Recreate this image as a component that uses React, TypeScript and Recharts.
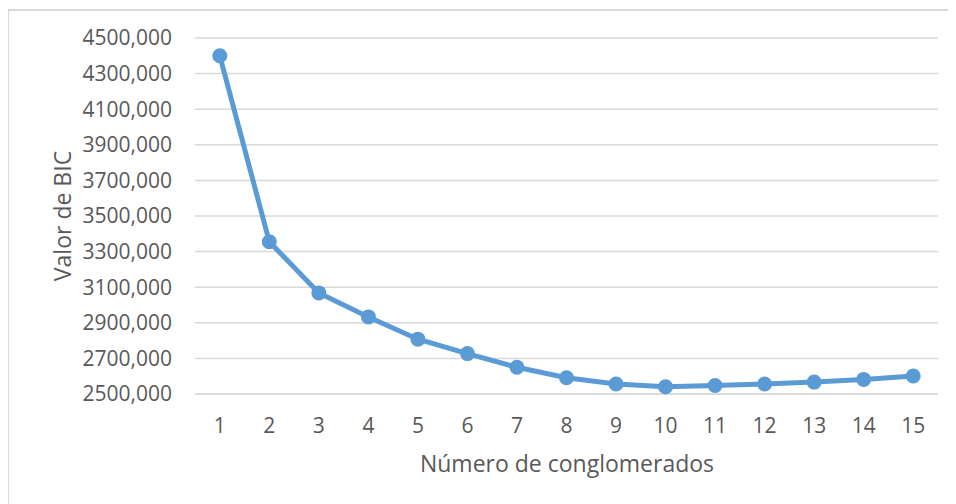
import { LineChart, Line, XAxis, YAxis, CartesianGrid } from 'recharts'

// BIC value per number of clusters (elbow-style chart)
const clusters = ['1', '2', '3', '4', '5', '6', '7', '8', '9', '10', '11', '12', '13', '14', '15']
const bicValues = [4400, 3355, 3068, 2933, 2808, 2727, 2650, 2591, 2556, 2541, 2548, 2556, 2567, 2582, 2601]
const yTicks = [2500, 2700, 2900, 3100, 3300, 3500, 3700, 3900, 4100, 4300, 4500]

const data = clusters.map((c, i) => ({ k: c, bic: bicValues[i] }))

const font = '"Open Sans", sans-serif'
const textColor = '#595959'
const frame = '#d9d9d9'

export default function App() {
  return (
    <div
      style={{
        position: 'relative',
        width: 956,
        height: 504,
        margin: '-8px 0 0 -8px',
        overflow: 'hidden',
        background: '#fff',
        fontFamily: font,
      }}
    >
      <LineChart
        width={956}
        height={504}
        data={data}
        margin={{ top: 38, right: 18, bottom: 0, left: 0 }}
        style={{ position: 'absolute', left: 0, top: 0 }}
      >
        <CartesianGrid vertical={false} stroke={frame} strokeWidth={1.5} />
        <XAxis
          dataKey="k"
          height={110}
          padding={{ left: 24.8, right: 24.8 }}
          axisLine={{ stroke: frame, strokeWidth: 1.5 }}
          tickLine={false}
          tickSize={0}
          tickMargin={24}
          interval={0}
          tick={{ fill: textColor, fontSize: 21, fontFamily: font }}
          label={{
            content: () => (
              <text x={567} y={472} textAnchor="middle" fill={textColor} fontSize={23} fontFamily={font}>
                Número de conglomerados
              </text>
            ),
          }}
        />
        <YAxis
          width={195}
          domain={[2500, 4500]}
          ticks={yTicks}
          interval={0}
          axisLine={false}
          tickLine={false}
          tickSize={0}
          tickMargin={23}
          tickFormatter={(v) => `${v},000`}
          tick={{ fill: textColor, fontSize: 21, fontFamily: font }}
          label={{
            content: () => (
              <text
                x={62}
                y={216}
                transform="rotate(-90 62 216)"
                textAnchor="middle"
                dominantBaseline="central"
                fill={textColor}
                fontSize={23}
                fontFamily={font}
              >
                Valor de BIC
              </text>
            ),
          }}
        />
        <Line
          type="linear"
          dataKey="bic"
          stroke="#5b9bd5"
          strokeWidth={5}
          dot={{ r: 6, fill: '#5b9bd5', stroke: '#5b9bd5', strokeWidth: 3 }}
          isAnimationActive={false}
        />
      </LineChart>
      {/* outer chart frame: only the top and left edges fall inside the picture */}
      <div style={{ position: 'absolute', left: 7, top: 9, width: 949, height: 2, background: frame }} />
      <div style={{ position: 'absolute', left: 7, top: 9, width: 2, height: 495, background: frame }} />
    </div>
  )
}
